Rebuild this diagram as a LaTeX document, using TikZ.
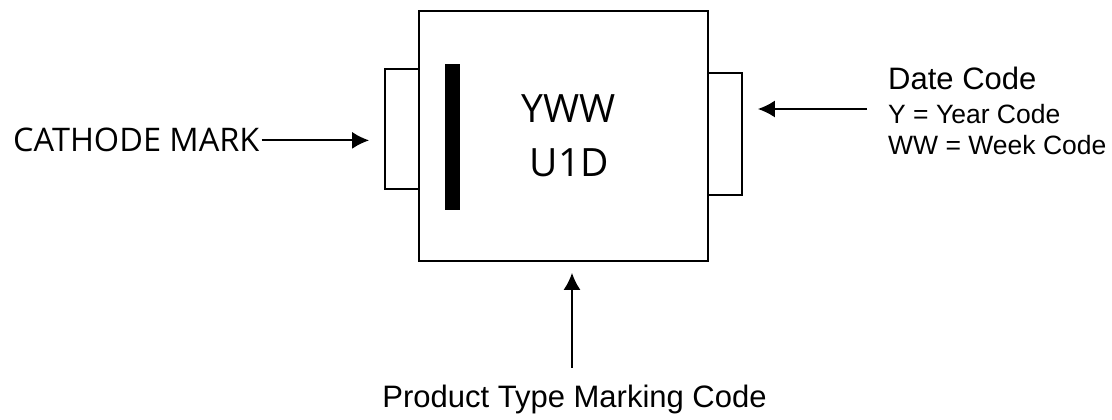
\documentclass[tikz,border=0pt]{standalone}
\usepackage{fontspec}
\setmainfont{Liberation Sans}
\newfontfamily\arialf{Liberation Sans}
\newfontfamily\segoe{Open Sans}
\usepackage{tikz}
\usetikzlibrary{arrows.meta,calc,positioning}
\tikzset{
    outline/.style={draw, line width=1.8pt, inner sep=0pt},
    cmark/.style={fill=black, inner sep=0pt, minimum width=15pt, minimum height=146pt},
    lbl/.style={inner sep=2pt, anchor=base west},
    arr/.style={-{Latex[length=17pt,width=17pt]}, line width=1.8pt},
}

\begin{document}
\begin{tikzpicture}[x=1pt,y=1pt]
        \useasboundingbox (0,0) rectangle (1112,420);
        % package body and tabs
        \node[outline, minimum width=34pt, minimum height=120pt] (ltab) at (402,291) {};
        \node[outline, minimum width=34pt, minimum height=122pt] (rtab) at (725,286) {};
        \node[outline, fill=white, minimum width=289pt, minimum height=250pt] (pkg) at (563.5,284) {};
        \node[cmark] (bar) at (452.5,283) {};
        \node[anchor=base, inner sep=0pt] (yww) at (568.5,297) {\segoe\fontsize{39}{45}\selectfont YWW};
        \node[anchor=base, inner sep=0pt] (uid) at (569.5,243) {\segoe\fontsize{39}{45}\selectfont U1D};
        % labels
        \node[lbl] (cathlbl) at (11,268) {\segoe\fontsize{32.5}{38}\selectfont CATHODE MARK};
        \node[lbl] (datehd) at (886,330) {\arialf\fontsize{31}{36}\selectfont Date Code};
        \node[lbl] (yearln) at (886,296) {\arialf\fontsize{26.5}{31}\selectfont Y = Year Code};
        \node[lbl] (weekln) at (886,265) {\arialf\fontsize{26.5}{31}\selectfont WW = Week Code};
        \node[anchor=base, inner sep=0pt] (prodlbl) at (574.5,12) {\arialf\fontsize{31}{36}\selectfont Product Type Marking Code};
        \coordinate (datetip) at (867,311);
        \coordinate (prodtip) at (572,52);
        % arrows
        \draw[arr, shorten >=15pt] (cathlbl.east) -- (cathlbl.east -| ltab.west);
        \draw[arr, shorten >=15pt] (datetip) -- (datetip -| rtab.east);
        \draw[arr, shorten >=11pt] (prodtip) -- (prodtip |- pkg.south);
\end{tikzpicture}
\end{document}
